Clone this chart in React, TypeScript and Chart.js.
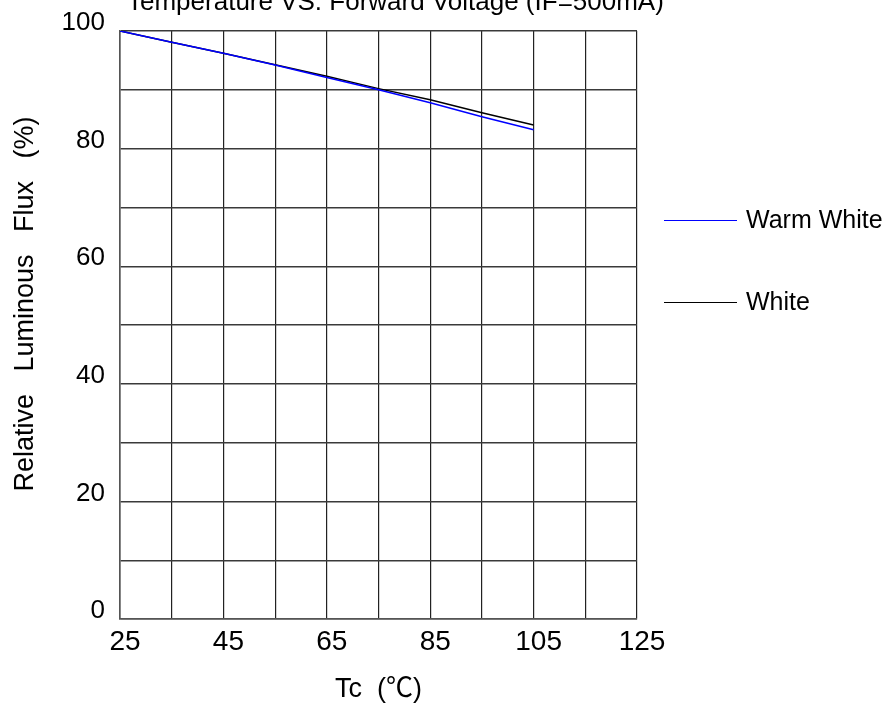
import { useEffect, useRef } from 'react'
import { Chart, registerables } from 'chart.js'

Chart.register(...registerables)

// Tc (°C) sample points and relative luminous flux (%)
const temperatures = [25, 35, 45, 55, 65, 75, 85, 95, 105]
const warmWhiteFlux = [100, 98.1, 96.2, 94.2, 92.1, 90.0, 87.8, 85.4, 83.2]
const whiteFlux = [100, 98.1, 96.2, 94.25, 92.3, 90.2, 88.3, 86.1, 84.0]

const seriesNames = ['Warm White', 'White']
const seriesColors = ['#0000ff', '#000000']

const xTickLabels = [25, 45, 65, 85, 105, 125]
const yTickLabels = [0, 20, 40, 60, 80, 100]

const chartTitle = 'Temperature VS. Forward Voltage (IF=500mA)'
const xTitle = 'Tc  (℃)'
const yTitle = 'Relative   Luminous   Flux   (%)'

const FONT = '"Liberation Sans", Arial, "Noto Sans CJK SC", sans-serif'

const textPlugin = {
  id: 'textPlugin',
  afterDraw(chart: Chart) {
    const { ctx, chartArea } = chart
    const { left, right, top, bottom } = chartArea
    ctx.save()
    ctx.fillStyle = '#000'
    ctx.textBaseline = 'alphabetic'

    // title, partly cut off at the top like the original
    ctx.font = `26px ${FONT}`
    ctx.textAlign = 'left'
    ctx.fillText(chartTitle, left + 7, top - 21)

    // x axis title
    ctx.font = `27px ${FONT}`
    ctx.textAlign = 'center'
    ctx.fillText(xTitle, (left + right) / 2, bottom + 78)

    // y axis title
    ctx.save()
    ctx.translate(33, (top + bottom) / 2 - 21)
    ctx.rotate(-Math.PI / 2)
    ctx.fillText(yTitle, 0, 0)
    ctx.restore()

    // legend
    ctx.font = `25px ${FONT}`
    ctx.textAlign = 'left'
    const lineY = [220.5, 302.5]
    chart.data.datasets.forEach((ds, i) => {
      const y = lineY[i]
      ctx.strokeStyle = ds.borderColor as string
      ctx.lineWidth = 1
      ctx.beginPath()
      ctx.moveTo(664, y)
      ctx.lineTo(737, y)
      ctx.stroke()
      ctx.fillText(ds.label ?? '', 746, y + 7)
    })
    ctx.restore()
  },
}

export default function App() {
  const canvasRef = useRef<HTMLCanvasElement>(null)
  const chartRef = useRef<Chart | null>(null)

  useEffect(() => {
    if (!canvasRef.current) return
    chartRef.current?.destroy()

    chartRef.current = new Chart(canvasRef.current, {
      type: 'line',
      data: {
        datasets: [
          {
            label: seriesNames[0],
            data: temperatures.map((t, i) => ({ x: t, y: warmWhiteFlux[i] })),
            borderColor: seriesColors[0],
            borderWidth: 1.5,
            pointRadius: 0,
            tension: 0,
          },
          {
            label: seriesNames[1],
            data: temperatures.map((t, i) => ({ x: t, y: whiteFlux[i] })),
            borderColor: seriesColors[1],
            borderWidth: 1.5,
            pointRadius: 0,
            tension: 0,
          },
        ],
      },
      options: {
        animation: false,
        responsive: true,
        maintainAspectRatio: false,
        layout: { padding: { top: 31, right: 253, left: 0, bottom: 0 } },
        plugins: {
          legend: { display: false },
          tooltip: { enabled: false },
          title: { display: false },
        },
        scales: {
          x: {
            type: 'linear',
            min: 25,
            max: 125,
            afterFit: s => { s.height = 88 },
            ticks: {
              stepSize: 10,
              autoSkip: false,
              maxRotation: 0,
              padding: 6,
              labelOffset: 5,
              color: '#000',
              font: { family: FONT, size: 28 },
              callback: v => (xTickLabels.includes(Number(v)) ? String(v) : ''),
            },
            grid: { color: '#222', lineWidth: 1.2, drawTicks: false },
            border: { color: '#555', width: 1.6 },
          },
          y: {
            type: 'linear',
            min: 0,
            max: 100,
            afterFit: s => { s.width = 120 },
            ticks: {
              stepSize: 10,
              autoSkip: false,
              padding: 15,
              labelOffset: -8,
              color: '#000',
              font: { family: FONT, size: 26 },
              callback: v => (yTickLabels.includes(Number(v)) ? String(v) : ''),
            },
            grid: { color: '#3a3a3a', lineWidth: 1.4, drawTicks: false },
            border: { color: '#555', width: 1.6 },
          },
        },
      },
      plugins: [textPlugin],
    })

    return () => {
      chartRef.current?.destroy()
      chartRef.current = null
    }
  }, [])

  return (
    <div style={{ position: 'fixed', left: 0, top: 0, width: 890, height: 707, background: '#fff' }}>
      <canvas ref={canvasRef} />
    </div>
  )
}
